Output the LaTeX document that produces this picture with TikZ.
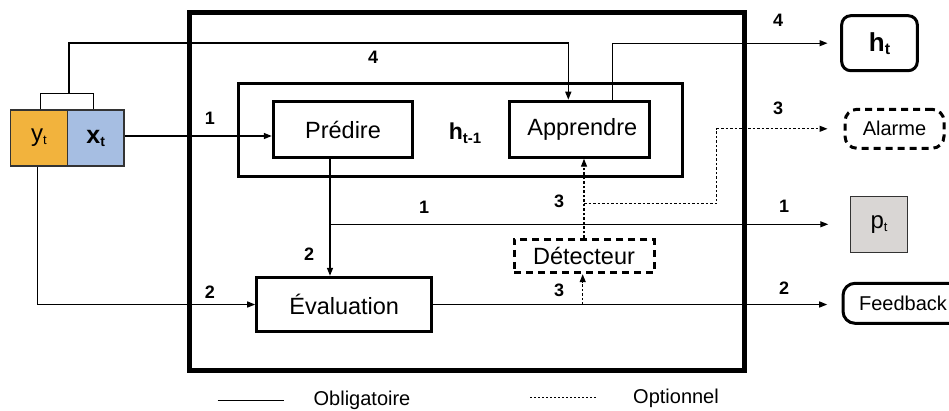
\documentclass[tikz,border=0pt]{standalone}
\usepackage{fontspec}
\setmainfont{Liberation Sans}
\usetikzlibrary{arrows.meta}
\definecolor{ycol}{HTML}{F2B33D}
\definecolor{xcol}{HTML}{A6BEE2}
\definecolor{pcol}{HTML}{D9D6D4}
\definecolor{edgegray}{HTML}{333333}
\begin{document}
\begin{tikzpicture}[x=1pt,y=-1pt,
  tip/.style={-{Triangle[length=8pt,width=6pt]}},
  conn/.style={line width=1.3pt, tip},
  plain/.style={line width=1.3pt},
  opt/.style={line width=1.3pt, dash pattern=on 2.5pt off 2pt},
  optc/.style={opt, tip},
  sbox/.style={draw, line width=3pt, inner sep=0pt, font=\fontsize{23.5}{28}\selectfont},
  dbox/.style={sbox, dash pattern=on 7pt off 5pt},
  small/.style={font=\fontsize{20}{24}\selectfont},
  num/.style={font=\bfseries\fontsize{18}{21}\selectfont},
  cell/.style={draw=edgegray, line width=1.5pt, inner sep=0pt, minimum width=56.6pt, minimum height=56pt}
]
\useasboundingbox (0,0) rectangle (949,410);

% boxes
\node[draw, line width=5pt, minimum width=555pt, minimum height=357.5pt] (outer) at (467,191.25) {};
\node[sbox, minimum width=444.4pt, minimum height=92.7pt] (inner) at (460.5,129.7) {};
\node[sbox, minimum width=139.4pt, minimum height=55.6pt] (pred) at (343,129.5) {Prédire};
\node[sbox, minimum width=140pt, minimum height=56pt] (appr) at (579.3,129.2) {\hspace*{6pt}Apprendre};
\node[font=\bfseries\fontsize{23}{27}\selectfont] (hprev) at (465,133) {h\raisebox{-4pt}{\fontsize{15}{15}\selectfont t-1}};
\node[sbox, minimum width=175pt, minimum height=54.4pt] (eval) at (344.2,304.5) {Évaluation};
\node[dbox, minimum width=140pt, minimum height=33.4pt] (det) at (584,256) {Détecteur};

\node[cell, fill=ycol, font=\fontsize{24}{28}\selectfont] (yt) at (39,138) {y\raisebox{-3pt}{\fontsize{13}{13}\selectfont t}};
\node[cell, fill=xcol, font=\bfseries\fontsize{25}{29}\selectfont] (xt) at (95.7,138) {x\raisebox{-3pt}{\fontsize{14}{14}\selectfont t}};

\node[sbox, rounded corners=9pt, minimum width=75.6pt, minimum height=55pt, font=\bfseries\fontsize{26}{30}\selectfont] (ht) at (879.5,43.2) {h\raisebox{-3pt}{\fontsize{16}{16}\selectfont t}};
\node[dbox, small, rounded corners=12pt, minimum width=99pt, minimum height=39pt] (alarm) at (894.5,128.8) {Alarme};
\node[cell, fill=pcol, font=\fontsize{24}{28}\selectfont] (pt) at (879,224.7) {p\raisebox{-3pt}{\fontsize{13}{13}\selectfont t}};
\node[sbox, small, rounded corners=12pt, minimum width=120pt, minimum height=40pt] (fb) at (903,303.3) {Feedback};

% helper coordinates
\coordinate (bl) at (40.7,93.3);
\coordinate (br) at (93.3,93.3);
\coordinate (bm) at (69,93.3);
\coordinate (top) at (0,43);
\coordinate (ain) at (568.3,0);
\coordinate (aout) at (612.3,0);
\coordinate (pd) at (330,0);
\coordinate (j1) at (330,224.3);
\coordinate (yd) at (37.3,0);
\coordinate (dd) at (582.7,304.5);
\coordinate (dj) at (584,203.3);
\coordinate (dr) at (716.7,203.3);

% solid connectors
\draw[plain] (yt.north -| bl) -- (bl) -- (br) -- (xt.north -| br);
\draw[conn] (bm) -- (bm |- top) -- (ain |- top) -- (ain |- appr.north);
\draw[conn, shorten >=12.7pt] (aout |- appr.north) |- (ht.west);
\draw[conn] ([yshift=2pt]xt.east) -- ([yshift=2pt]xt.east -| pred.west);
\draw[conn] (pd |- pred.south) -- (pd |- eval.north);
\draw[conn, shorten >=21.7pt] (j1) -- (j1 -| pt.west);
\draw[conn] (yd |- yt.south) |- (eval.west);
\draw[conn, shorten >=14.3pt] (eval.east) -- (eval.east -| fb.west);

% optional connectors
\draw[optc] (dd) -- (dd |- det.south);
\draw[optc] (det.north) -- (det.north |- appr.south);
\draw[optc, shorten >=16pt] (dj) -- (dr) -- (dr |- alarm.west) -- (alarm.west);

% numbers
\node[num] (n1) at (373,57) {4};
\node[num] (n2) at (778,20) {4};
\node[num] (n3) at (778,108) {3};
\node[num] (n4) at (784,206) {1};
\node[num] (n5) at (784,288) {2};
\node[num] (n6) at (210,118) {1};
\node[num] (n7) at (210,292) {2};
\node[num] (n8) at (424,207) {1};
\node[num] (n9) at (309,254) {2};
\node[num] (n10) at (559,201.7) {3};
\node[num] (n11) at (559,290) {3};

% legend
\coordinate (l1a) at (217.5,400);
\coordinate (l1b) at (283.6,400);
\coordinate (l2a) at (530,397);
\coordinate (l2b) at (596,397);
\draw[line width=1pt] (l1a) -- (l1b);
\draw[line width=1pt, dash pattern=on 2pt off 2pt] (l2a) -- (l2b);
\node[small, anchor=base] (leg1) at (362,405) {Obligatoire};
\node[small, anchor=base] (leg2) at (676,403) {Optionnel};
\end{tikzpicture}
\end{document}
